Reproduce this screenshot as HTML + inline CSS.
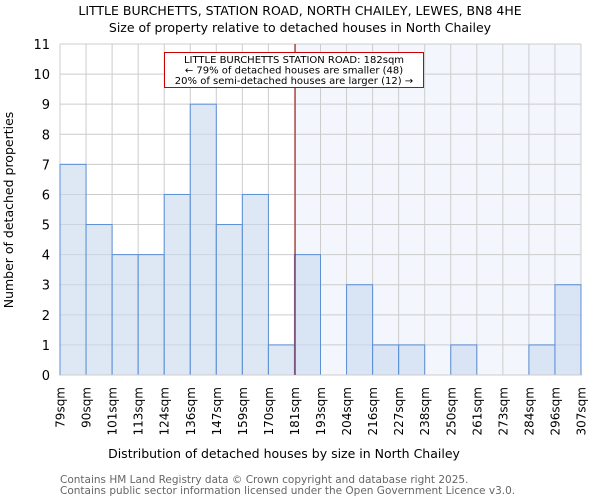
<!DOCTYPE html>
<html><head><meta charset="utf-8"><style>
body{margin:0;background:#fff;}
svg{display:block;font-family:"DejaVu Sans","Liberation Sans",sans-serif;}
</style></head><body>
<svg id="chart" width="600" height="500">
<text x="300" y="15" text-anchor="middle" font-size="12.5">LITTLE BURCHETTS, STATION ROAD, NORTH CHAILEY, LEWES, BN8 4HE</text>
<text x="300" y="32" text-anchor="middle" font-size="12.5">Size of property relative to detached houses in North Chailey</text>
<g id="plot"></g>
<text x="284" y="458" text-anchor="middle" font-size="12.5">Distribution of detached houses by size in North Chailey</text>
<text transform="translate(13,210) rotate(-90)" text-anchor="middle" font-size="12.5">Number of detached properties</text>
<text x="60" y="483" font-size="10.5" fill="#666">Contains HM Land Registry data © Crown copyright and database right 2025.</text>
<text x="60" y="494" font-size="10.5" fill="#666">Contains public sector information licensed under the Open Government Licence v3.0.</text>
</svg>
<script>
const edgeLabels=[79,90,101,113,124,136,147,159,170,181,193,204,216,227,238,250,261,273,284,296,307];
const counts=[7,5,4,4,6,9,5,6,1,4,0,3,1,1,0,1,0,0,1,3];
const yTicks=[0,1,2,3,4,5,6,7,8,9,10,11];
const propertySize=182;
const X0=60,X1=581,Y0=375,Y1=44,YMAX=11;
const nb=counts.length, bw=(X1-X0)/nb;
const xi=i=>X0+i*bw;
const xv=v=>{for(let i=0;i<edgeLabels.length-1;i++){if(v>=edgeLabels[i]&&v<=edgeLabels[i+1])return xi(i)+(v-edgeLabels[i])/(edgeLabels[i+1]-edgeLabels[i])*bw*0.3;}return X1;};
const y=v=>Y0-(v/YMAX)*(Y0-Y1);
const ns="http://www.w3.org/2000/svg";
const g=document.getElementById('plot');
function mk(t,a){const e=document.createElementNS(ns,t);for(const k in a)e.setAttribute(k,a[k]);g.appendChild(e);return e;}
const px=xv(propertySize);
let sh=mk('rect',{x:px,y:Y1,width:X1-px,height:Y0-Y1,fill:'#f3f6fd'});


yTicks.forEach(t=>{
 let l=mk('line',{x1:X0,x2:X1,y1:y(t),y2:y(t),stroke:'#cccccc','stroke-width':1});
 
 
 let tx=mk('text',{x:X0-10,y:y(t)+5,'text-anchor':'end','font-size':'13'});
 tx.textContent=t;
 
 
});
edgeLabels.forEach((lab,i)=>{
 let l=mk('line',{x1:xi(i),x2:xi(i),y1:Y1,y2:Y0,stroke:'#cccccc','stroke-width':1});
 
 
 let tx=mk('text',{transform:`translate(${xi(i)+4.5},${Y0+12}) rotate(-90)`,'text-anchor':'end','font-size':'12'});
 tx.textContent=lab+'sqm';
 
 
});
counts.forEach((c,i)=>{
 if(c<=0)return;
 let r=mk('rect',{x:xi(i),y:y(c),width:bw,height:Y0-y(c),fill:'rgba(200,216,238,0.6)',stroke:'#5b8fd6','stroke-width':1});
 
 
});
let ax=mk('line',{x1:X0,x2:X1,y1:Y0,y2:Y0,stroke:'#cccccc'});


let rl=mk('line',{x1:px,x2:px,y1:Y1,y2:Y0,stroke:'#b00000','stroke-width':1});


let box=mk('rect',{x:164.5,y:52.5,width:259,height:35,fill:'#fff',stroke:'#cc0000','stroke-width':1});


['LITTLE BURCHETTS STATION ROAD: 182sqm','← 79% of detached houses are smaller (48)','20% of semi-detached houses are larger (12) →'].forEach((s,k)=>{
 let t=mk('text',{x:294,y:63+k*10.5,'text-anchor':'middle','font-size':'10'});
 t.textContent=s;
 
 
});
</script>
</body></html>
